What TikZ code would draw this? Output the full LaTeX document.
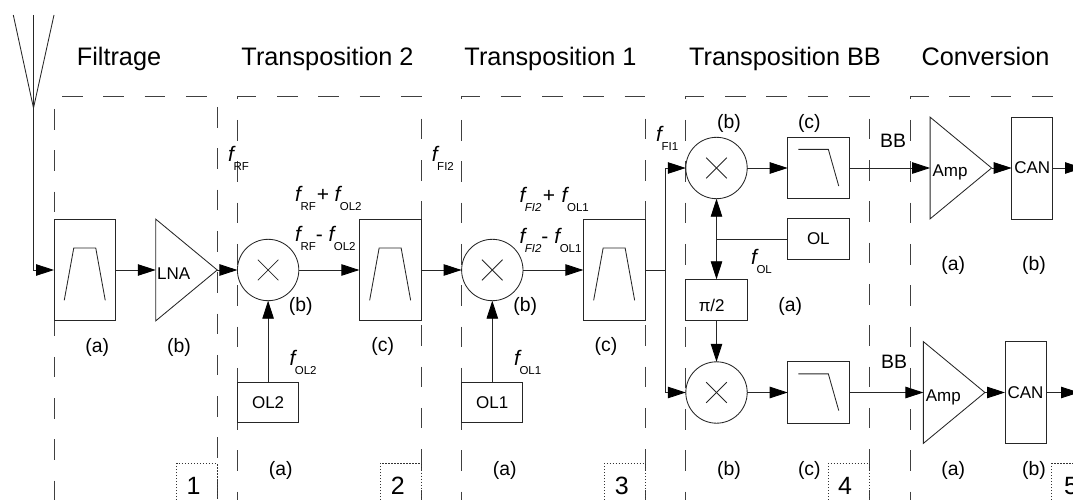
\documentclass[tikz,border=0pt]{standalone}
\usepackage{fontspec}
\setmainfont{Liberation Sans}
\usetikzlibrary{arrows.meta}
\newcommand\fq[1]{{\itshape f}\kern-0.5pt\raisebox{-9pt}{\fontsize{11.5}{12}\selectfont #1}}
\tikzset{
  ink/.style={draw=black!85,line width=0.85pt},
  zone/.style={draw=black!75,line width=0.8pt,dash pattern=on 20.65pt off 20.65pt},
  dots/.style={draw=black!80,line width=0.7pt,dash pattern=on 1.5pt off 1.5pt},
  bx/.style 2 args={ink,minimum width=#1pt,minimum height=#2pt,inner sep=0pt,outer sep=0pt,font=\fontsize{17}{20}\selectfont},
  tri/.style={minimum width=61.5pt,minimum height=101.7pt,inner sep=0pt,outer sep=0pt},
  mix/.style={ink,circle,minimum size=61.4pt,inner sep=0pt,outer sep=0pt},
  arr/.style={ink,-{Triangle[length=18pt,width=11.5pt,color=black,fill=black]}},
  darr/.style={ink,{Triangle[length=18pt,width=11.5pt,color=black,fill=black]}-{Triangle[length=18pt,width=11.5pt,color=black,fill=black]}},
  ttl/.style={anchor=base,inner sep=0pt,font=\fontsize{25.3}{30}\selectfont},
  tag/.style={anchor=base,inner sep=0pt,font=\fontsize{19.4}{24}\selectfont},
  txt/.style={anchor=base,inner sep=0pt,font=\fontsize{17}{20}\selectfont},
  num/.style={anchor=base,inner sep=0pt,font=\fontsize{25}{30}\selectfont},
  frq/.style={anchor=base west,inner sep=0pt,font=\fontsize{21}{24}\selectfont},
}
\begin{document}
\begin{tikzpicture}[x=1pt,y=-1pt]
\useasboundingbox (0,0) rectangle (1073,500);
\clip (0,0) rectangle (1073,500);
% zones
\draw[zone] (62,96) -- (207,96);
\draw[zone,dash phase=1.8pt] (237.5,96) -- (421.7,96);
\draw[zone,dash phase=2.3pt] (461.7,96) -- (645.7,96);
\draw[zone,dash phase=2pt] (685.7,96) -- (869.7,96);
\draw[zone,dash phase=2pt] (910,96) -- (1053,96);
\draw[zone] (54,109) -- (54,500);
\draw[zone] (217,107) -- (217,500);
\foreach \zx in {237.5,461.7,685.7,910}
  \draw[zone,dash phase=17.3pt] (\zx,96) -- (\zx,500);
\foreach \zx in {421,645,869.3}
  \draw[zone] (\zx,118.7) -- (\zx,500);
% number tabs
\draw[dots] (176.5,500) -- (176.5,463.3) -- (217,463.3) -- (217,500);
\draw[dots] (380,500) -- (380,463.3) -- (421,463.3) -- (421,500);
\draw[dots] (604.3,500) -- (604.3,463.3) -- (645,463.3) -- (645,500);
\draw[dots] (828.3,500) -- (828.3,463.3) -- (869.3,463.3) -- (869.3,500);
\draw[dots] (1051.7,500) -- (1051.7,463.3) -- (1080,463.3);
\node[num] (n1) at (193.5,494) {1};
\node[num] (n2) at (397.7,494) {2};
\node[num] (n3) at (621.7,494) {3};
\node[num] (n4) at (845,494) {4};
\node[num] (n5) at (1071,494) {5};
% titles
\node[ttl] (t1) at (119,65.6) {Filtrage};
\node[ttl] (t2) at (327.5,65.6) {Transposition 2};
\node[ttl] (t3) at (550.5,65.6) {Transposition 1};
\node[ttl] (t4) at (785,65.6) {Transposition BB};
\node[ttl] (t5) at (985.5,65.6) {Conversion};
% antenna
\coordinate (anttip) at (33.5,108);
\coordinate (anta) at (13.3,15);
\coordinate (antb) at (33.5,15);
\coordinate (antc) at (54,15);
\draw[ink] (anta) -- (anttip) -- (antc);
\draw[ink] (antb) -- (anttip);
% blocks
\node[bx={61.5}{101.7}] (f1) at (84.75,270) {};
\node[tri] (lna) at (186.5,270) {};
\draw[ink,line join=miter] (lna.north west) -- (lna.south west) -- (lna.east) -- cycle;
\node[mix] (m1) at (268.1,270) {};
\node[bx={61.6}{101.7}] (f2) at (390.15,270) {};
\node[mix] (m2) at (492.3,270) {};
\node[bx={61.6}{101.7}] (f3) at (614.15,270) {};
\node[bx={61.2}{40.7}] (ol2) at (268.1,402.3) {OL2};
\node[bx={61.2}{40.7}] (ol1) at (492.3,402.3) {OL1};
\node[mix] (mt) at (716.5,168) {};
\node[mix] (mb) at (716.5,392.5) {};
\node[bx={61.3}{61}] (lpt) at (818.35,168) {};
\node[bx={61.3}{61.6}] (lpb) at (818.35,392.5) {};
\node[bx={61.3}{40.6}] (ol) at (818.35,239) {OL};
\node[bx={61.4}{41.4}] (pi) at (716.6,300) {};
\node[tri] (ampt) at (960.85,168) {};
\draw[ink] (ampt.north west) -- (ampt.south west) -- (ampt.east) -- cycle;
\node[tri] (ampb) at (954.15,392.5) {};
\draw[ink] (ampb.north west) -- (ampb.south west) -- (ampb.east) -- cycle;
\node[bx={41}{102}] (cant) at (1032.2,168) {CAN};
\node[bx={41}{102}] (canb) at (1025.5,392.5) {CAN};
\node[txt] (lnat) at (173.7,279) {LNA};
\node[txt] (ampta) at (950,176.7) {Amp};
\node[txt] (ampba) at (943.3,401.7) {Amp};
\node[txt] (pit) at (711.7,311.7) {π/2};
% block glyphs
\foreach \n in {f1,f2,f3}
  \draw[ink] ([shift={(-20.5,30.3)}]\n.center) -- ([shift={(-11,-22)}]\n.center) -- ([shift={(11,-22)}]\n.center) -- ([shift={(20.5,30.3)}]\n.center);
\foreach \n in {m1,m2,mt,mb} {
  \draw[ink] ([shift={(-10.3,-10.3)}]\n.center) -- ([shift={(10.3,10.3)}]\n.center);
  \draw[ink] ([shift={(-10.3,10.3)}]\n.center) -- ([shift={(10.3,-10.3)}]\n.center);
}
\foreach \n in {lpt,lpb}
  \draw[ink] ([shift={(-20,-18.6)}]\n.center) -- ([shift={(10,-18.6)}]\n.center) -- ([shift={(20.4,18.1)}]\n.center);
% connectors
\draw[arr] (anttip) |- (f1.west);
\draw[arr] (f1.east) -- (lna.west);
\draw[arr] (lna.east) -- (m1.west);
\draw[arr] (m1.east) -- (f2.west);
\draw[arr] (ol2.north) -- (m1.south);
\draw[arr] (f2.east) -- (m2.west);
\draw[arr] (m2.east) -- (f3.west);
\draw[arr] (ol1.north) -- (m2.south);
\coordinate (split) at (665.7,270);
\draw[ink] (f3.east) -- (split);
\draw[arr] (split) |- (mt.west);
\draw[arr] (split) |- (mb.west);
\draw[arr] (mt.east) -- (lpt.west);
\draw[arr] (mb.east) -- (lpb.west);
\draw[darr] (mt.south) -- (mt.south |- pi.north);
\coordinate (junc) at (mt.south |- ol.west);
\draw[ink] (ol.west) -- (junc);
\draw[arr] (pi.south -| mb.north) -- (mb.north);
\draw[arr] (lpt.east) -- (ampt.west);
\draw[arr] (lpb.east) -- (ampb.west);
\draw[arr] (ampt.east) -- (cant.west);
\draw[arr] (ampb.east) -- (canb.west);
\coordinate (outt) at (1083,168);
\coordinate (outb) at (1079,392.5);
\draw[arr] (cant.east) -- (outt);
\draw[arr] (canb.east) -- (outb);
% frequency labels
\node[frq] (lrf) at (228,161) {\fq{RF}};
\node[frq] (lfi2) at (431.7,161.7) {\fq{FI2}};
\node[frq] (lfi1) at (656,141.7) {\fq{FI1}};
\node[frq] (lsa) at (295,201.7) {\fq{RF}\kern1pt+\kern5.4pt\fq{OL2}};
\node[frq] (lsb) at (295,241.7) {\fq{RF}-\kern5.7pt\fq{OL2}};
\node[frq] (lsc) at (519.3,202.3) {\fq{\itshape FI2}\kern1.5pt+\kern6.5pt\fq{OL1}};
\node[frq] (lsd) at (519.3,243.3) {\fq{\itshape FI2}-\kern6pt\fq{OL1}};
\node[frq] (lo2) at (289.3,365) {\fq{OL2}};
\node[frq] (lo1) at (514,365) {\fq{OL1}};
\node[frq] (lo) at (751,264) {\fq{OL}};
\node[tag] (bbt) at (893,147.3) {BB};
\node[tag] (bbb) at (894,368.3) {BB};
% tags
\node[tag] (ta1) at (97.3,352) {(a)};
\node[tag] (ta2) at (179,352) {(b)};
\node[tag] (ta3) at (300.7,311.3) {(b)};
\node[tag] (ta4) at (382.7,351.5) {(c)};
\node[tag] (ta5) at (280.7,475) {(a)};
\node[tag] (ta6) at (504.7,475) {(a)};
\node[tag] (ta7) at (525.3,311.3) {(b)};
\node[tag] (ta8) at (606,351.5) {(c)};
\node[tag] (ta9) at (729,128.5) {(b)};
\node[tag] (ta10) at (809.3,128.5) {(c)};
\node[tag] (ta11) at (790.3,311) {(a)};
\node[tag] (ta12) at (729,475) {(b)};
\node[tag] (ta13) at (809.3,475) {(c)};
\node[tag] (ta14) at (953.3,270.3) {(a)};
\node[tag] (ta15) at (1034,270.3) {(b)};
\node[tag] (ta16) at (953.3,475) {(a)};
\node[tag] (ta17) at (1034,475) {(b)};
\end{tikzpicture}
\end{document}
